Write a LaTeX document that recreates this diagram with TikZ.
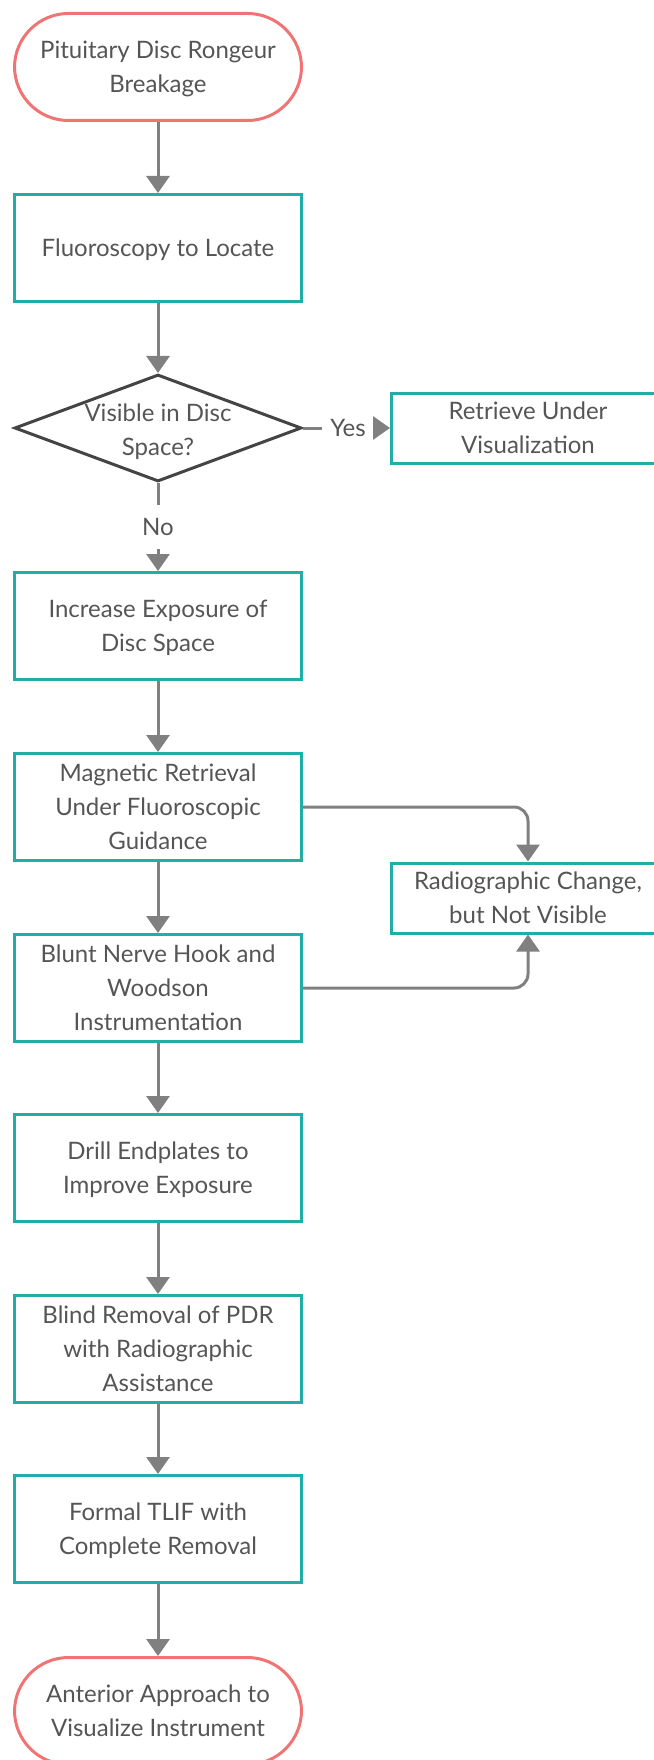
\documentclass[tikz,border=0pt]{standalone}
\usepackage{fontspec}
\setmainfont{Lato}
\usepackage{tikz}
\usetikzlibrary{arrows.meta,shapes,positioning}
\definecolor{termred}{RGB}{240,116,116}
\definecolor{procteal}{RGB}{33,173,168}
\definecolor{linegray}{RGB}{128,128,128}
\definecolor{diagray}{RGB}{68,68,68}
\definecolor{txtgray}{RGB}{85,85,85}
\tikzstyle{base}     = [font=\fontsize{24}{34}\selectfont, text=txtgray, align=center, text depth=0pt]
\tikzstyle{terminal} = [base, rectangle, draw=termred, line width=3pt, rounded corners=54pt, minimum width=287pt, minimum height=107pt]
\tikzstyle{process}  = [base, rectangle, draw=procteal, line width=3pt, minimum width=287pt, minimum height=107pt]
\tikzstyle{side}     = [process, minimum width=273pt, minimum height=70pt]
\tikzstyle{decision} = [diamond, draw=diagray, line width=3pt, minimum width=287pt, minimum height=107pt, inner sep=0pt]
\tikzstyle{tag}      = [base, inner sep=0pt]
\tikzstyle{line}     = [draw=linegray, line width=3pt]
\tikzstyle{arrow}    = [line, -{Triangle[width=23pt,length=17pt]}]

\begin{document}
\begin{tikzpicture}[x=1pt, y=-1pt]
      \useasboundingbox (0,0) rectangle (653,1760);
      %Main column
      \node (start)  [terminal] at (158,67)   {Pituitary Disc Rongeur\\Breakage};
      \node (locate) [process]  at (158,248)  {Fluoroscopy to Locate};
      \node (vis)    [decision] at (158,428)  {};
      \node (vistxt) [tag]      at (158,430)  {Visible in Disc\\Space?};
      \node (expose) [process]  at (158,626)  {Increase Exposure of\\Disc Space};
      \node (magnet) [process]  at (158,807)  {Magnetic Retrieval\\Under Fluoroscopic\\Guidance};
      \node (blunt)  [process]  at (158,988)  {Blunt Nerve Hook and\\Woodson\\Instrumentation};
      \node (drill)  [process]  at (158,1168) {Drill Endplates to\\Improve Exposure};
      \node (blind)  [process]  at (158,1349) {Blind Removal of PDR\\with Radiographic\\Assistance};
      \node (tlif)   [process]  at (158,1529) {Formal TLIF with\\Complete Removal};
      \node (ant)    [terminal] at (158,1711) {Anterior Approach to\\Visualize Instrument};

      %Right column
      \node (retr)   [side]     at (528,428)  {Retrieve Under\\Visualization};
      \node (radio)  [side]     at (528,898)  {Radiographic Change,\\but Not Visible};

      %Labels
      \node (yes) [tag, minimum width=52pt] at (348,428) {Yes};
      \node (no)  [tag, minimum height=44pt] at (158,527) {No};

      %Connectors
      \draw [arrow] (start) -- (locate);
      \draw [arrow] (locate) -- (vis);
      \draw [line]  (vis.east) -- (yes.west);
      \draw [arrow] (yes.east) -- (retr.west);
      \draw [line]  (vis.south) -- (no.north);
      \draw [arrow] (no.south) -- (expose.north);
      \draw [arrow] (expose) -- (magnet);
      \draw [arrow] (magnet) -- (blunt);
      \draw [arrow, rounded corners=14pt] (magnet.east) -| (radio.north);
      \draw [arrow, rounded corners=14pt] (blunt.east) -| (radio.south);
      \draw [arrow] (blunt) -- (drill);
      \draw [arrow] (drill) -- (blind);
      \draw [arrow] (blind) -- (tlif);
      \draw [arrow] (tlif) -- (ant);
\end{tikzpicture}
\end{document}
